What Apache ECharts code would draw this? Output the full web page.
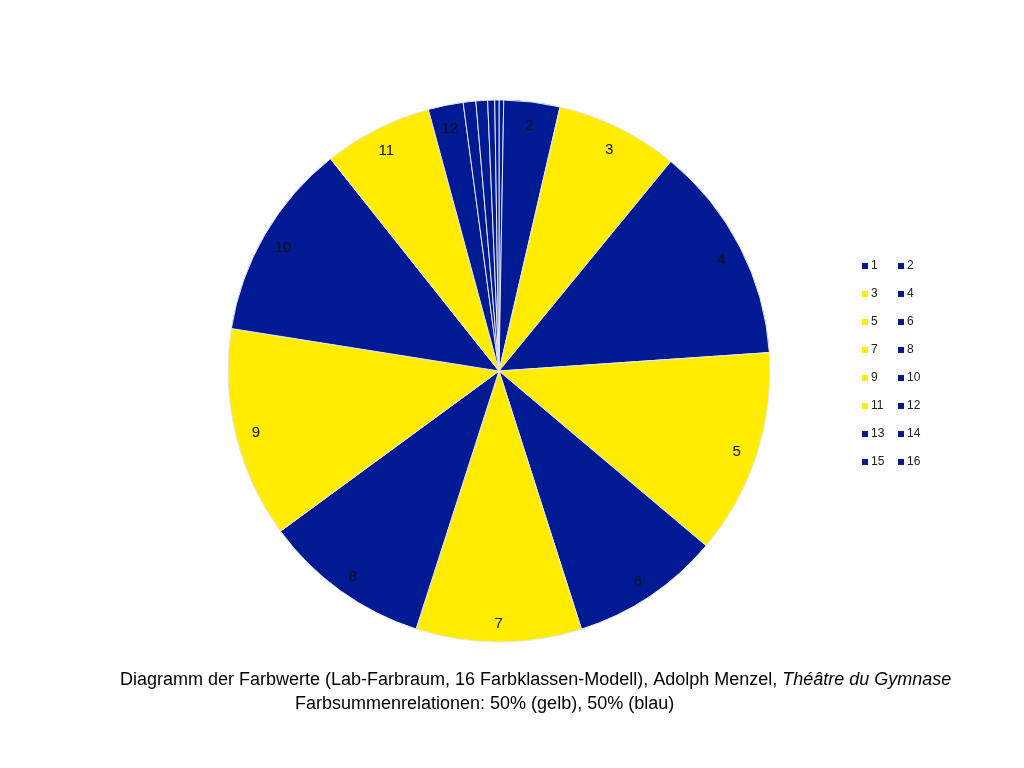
<!DOCTYPE html>
<html>
<head>
<meta charset="utf-8">
<script src="https://cdn.jsdelivr.net/npm/echarts@6/dist/echarts.min.js"></script>
<style>html,body{margin:0;padding:0;background:#fff}#c{width:1024px;height:768px}</style>
</head>
<body>
<div id="c"></div>
<script>
var categories = ['1','2','3','4','5','6','7','8','9','10','11','12','13','14','15','16'];
var values = [1.0, 12.0, 26.3, 46.7, 44.0, 32.1, 35.5, 35.9, 45.2, 42.5, 23.3, 7.5, 2.7, 2.5, 1.5, 0.9];
var colorGroup = ['blau','blau','gelb','blau','gelb','blau','gelb','blau','gelb','blau','gelb','blau','blau','blau','blau','blau'];
var labeled = ['2','3','4','5','6','7','8','9','10','11','12'];
var legendLeftCol = ['1','3','5','7','9','11','13','15'];
var legendRightCol = ['2','4','6','8','10','12','14','16'];
var titleLine1 = 'Diagramm der Farbwerte (Lab-Farbraum, 16 Farbklassen-Modell), Adolph Menzel, ';
var titleItalic = 'Théâtre du Gymnase';
var titleLine2 = 'Farbsummenrelationen: 50% (gelb), 50% (blau)';

var BLUE = '#001A94', YELLOW = '#FFEC00';
var palette = {blau: BLUE, gelb: YELLOW};

var pieData = categories.map(function (c, i) {
  return { name: c, value: values[i], itemStyle: { color: palette[colorGroup[i]] } };
});
var labelData = categories.map(function (c, i) {
  return { name: c, value: values[i], label: { show: labeled.indexOf(c) >= 0 } };
});

var chart = echarts.init(document.getElementById('c'), null, {renderer: 'canvas'});
var FONT = 'Liberation Sans, Arial, sans-serif';
var legendCommon = {
  orient: 'vertical', itemWidth: 6, itemHeight: 6, itemGap: 14, icon: 'rect',
  selectedMode: false,
  itemStyle: { borderWidth: 0 },
  textStyle: { fontFamily: FONT, fontSize: 12, color: '#222', lineHeight: 14, padding: [0,0,0,-2] }
};
chart.setOption({
  animation: false,
  title: [
    {
      text: titleLine1 + '{i|' + titleItalic + '}',
      left: 115, top: 666,
      textStyle: { fontFamily: FONT, fontSize: 18, fontWeight: 'normal', color: '#000',
        rich: { i: { fontFamily: FONT, fontSize: 18, fontStyle: 'italic', color: '#000' } } }
    },
    {
      text: titleLine2,
      left: 290, top: 690,
      textStyle: { fontFamily: FONT, fontSize: 18, fontWeight: 'normal', color: '#000' }
    }
  ],
  legend: [
    Object.assign({ left: 857, top: 254, data: legendLeftCol }, legendCommon),
    Object.assign({ left: 893, top: 254, data: legendRightCol }, legendCommon)
  ],
  series: [
    {
      type: 'pie', center: ['499px', '371px'], radius: [0, 271], startAngle: 90, clockwise: true,
      data: pieData, label: { show: false }, labelLine: { show: false },
      itemStyle: { borderColor: '#e6e6ef', borderWidth: 1 },
      emphasis: { disabled: true }, silent: true
    },
    {
      type: 'pie', center: ['499px', '374px'], radius: [223, 271], startAngle: 90, clockwise: true,
      data: labelData, silent: true, emphasis: { disabled: true },
      itemStyle: { color: 'rgba(0,0,0,0)', borderWidth: 0 },
      label: { position: 'inside', formatter: '{b}', color: '#111', fontSize: 15,
        fontFamily: FONT },
      labelLine: { show: false }
    }
  ]
});
</script>
</body>
</html>
